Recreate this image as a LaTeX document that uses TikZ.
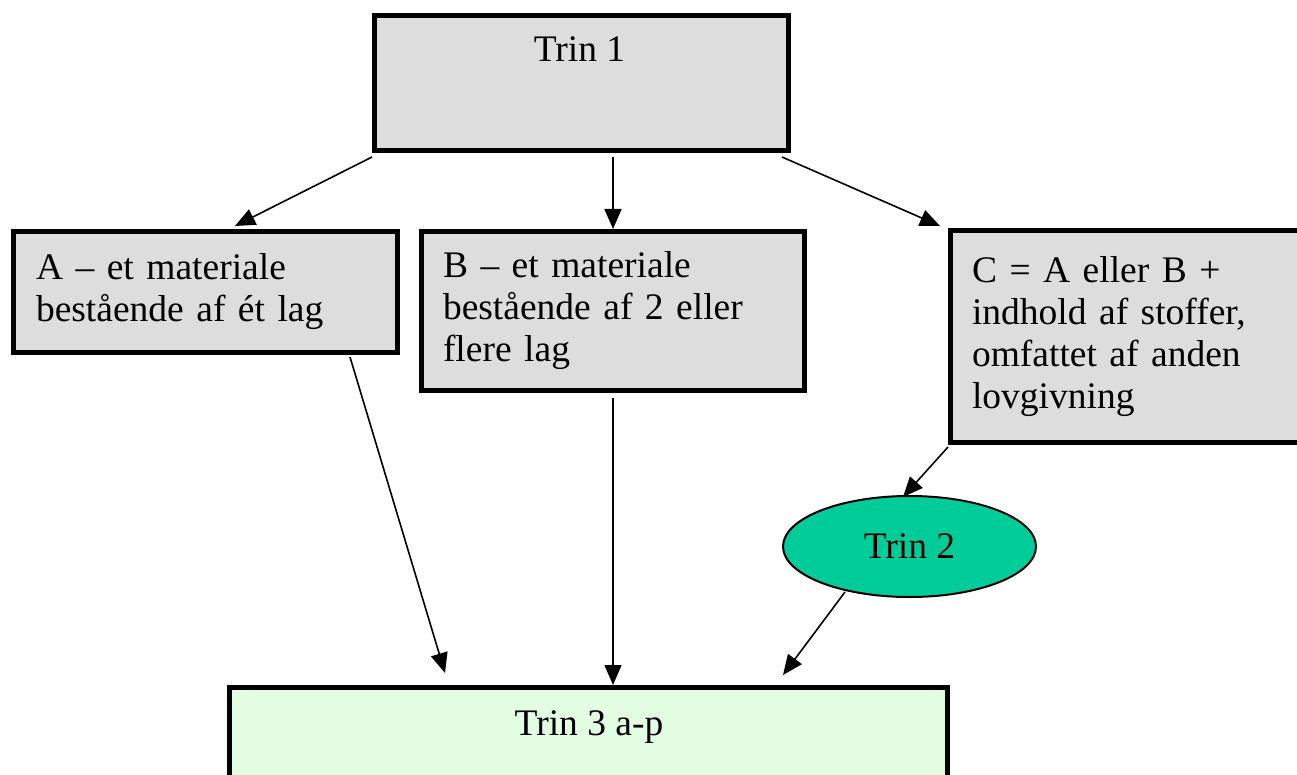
\documentclass[tikz,border=0pt]{standalone}
\usepackage{fontspec}
\setmainfont{Liberation Serif}
\usetikzlibrary{arrows.meta,calc,shapes.geometric}
\definecolor{boxgray}{HTML}{DDDDDD}
\definecolor{trinlight}{HTML}{E2FDE2}
\definecolor{trinteal}{HTML}{00CC99}
\tikzset{
  graybox/.style={draw=black, line width=5pt, fill=boxgray, inner sep=0pt, align=left},
  greenbox/.style={draw=black, line width=5pt, fill=trinlight, inner sep=0pt},
  oval/.style={ellipse, draw=black, line width=2pt, fill=trinteal, inner sep=0pt},
  txt/.style={inner sep=0pt, anchor=base},
  conn/.style={line width=1.6pt, -{Triangle[length=20pt,width=17pt]}}
}
\begin{document}
\begin{tikzpicture}[x=1pt,y=-1pt,font=\fontsize{37.5}{42}\selectfont]
\useasboundingbox (0,0) rectangle (1297,775);
\clip (0,0) rectangle (1297,775);
% boxes
\node[graybox, minimum width=414pt, minimum height=135pt] (t1) at (581.5,83) {};
\node[txt] (t1lbl) at (579.5,62) {Trin 1};
\node[graybox, minimum width=384pt, minimum height=121pt, text width=339pt] (a) at (205.5,292)
  {A -- et materiale\\bestående af ét lag};
\node[graybox, minimum width=383pt, minimum height=159pt, text width=340pt] (b) at (613,311)
  {B -- et materiale\\bestående af 2 eller\\flere lag};
\node[graybox, minimum width=367pt, minimum height=212pt, text width=324pt] (c) at (1134,336.5)
  {C = A eller B +\\indhold af stoffer,\\omfattet af anden\\lovgivning};
\node[oval, minimum width=253pt, minimum height=101pt] (t2) at (909.5,546.5) {Trin 2};
\node[greenbox, minimum width=718pt, minimum height=150pt] (t3) at (588.5,762.5) {};
\node[txt] (t3lbl) at (589,735) {Trin 3 a-p};
% connectors
\draw[conn] ($(t1.south west)+(0,4)$) -- ($(a.north)+(29.5,-3)$);
\draw[conn] ($(t1.south -| b.north)+(0,4)$) -- (b.north);
\draw[conn] ($(t1.south east)+(-9,4)$) -- ($(c.north west)+(-8,-2)$);
\draw[conn] ($(a.south east)+(-50,2)$) -- ($(t3.north west)+(218,-12)$);
\draw[conn] ($(b.south)+(0,5)$) -- (t3.north -| b.south);
\draw[conn] ($(c.south west)+(0,2)$) -- ($(t2.north)+(-6.5,2)$);
\draw[conn] ($(t2.south)+(-64.5,-6)$) -- ($(t3.north east)+(-167,-10)$);
\end{tikzpicture}
\end{document}
